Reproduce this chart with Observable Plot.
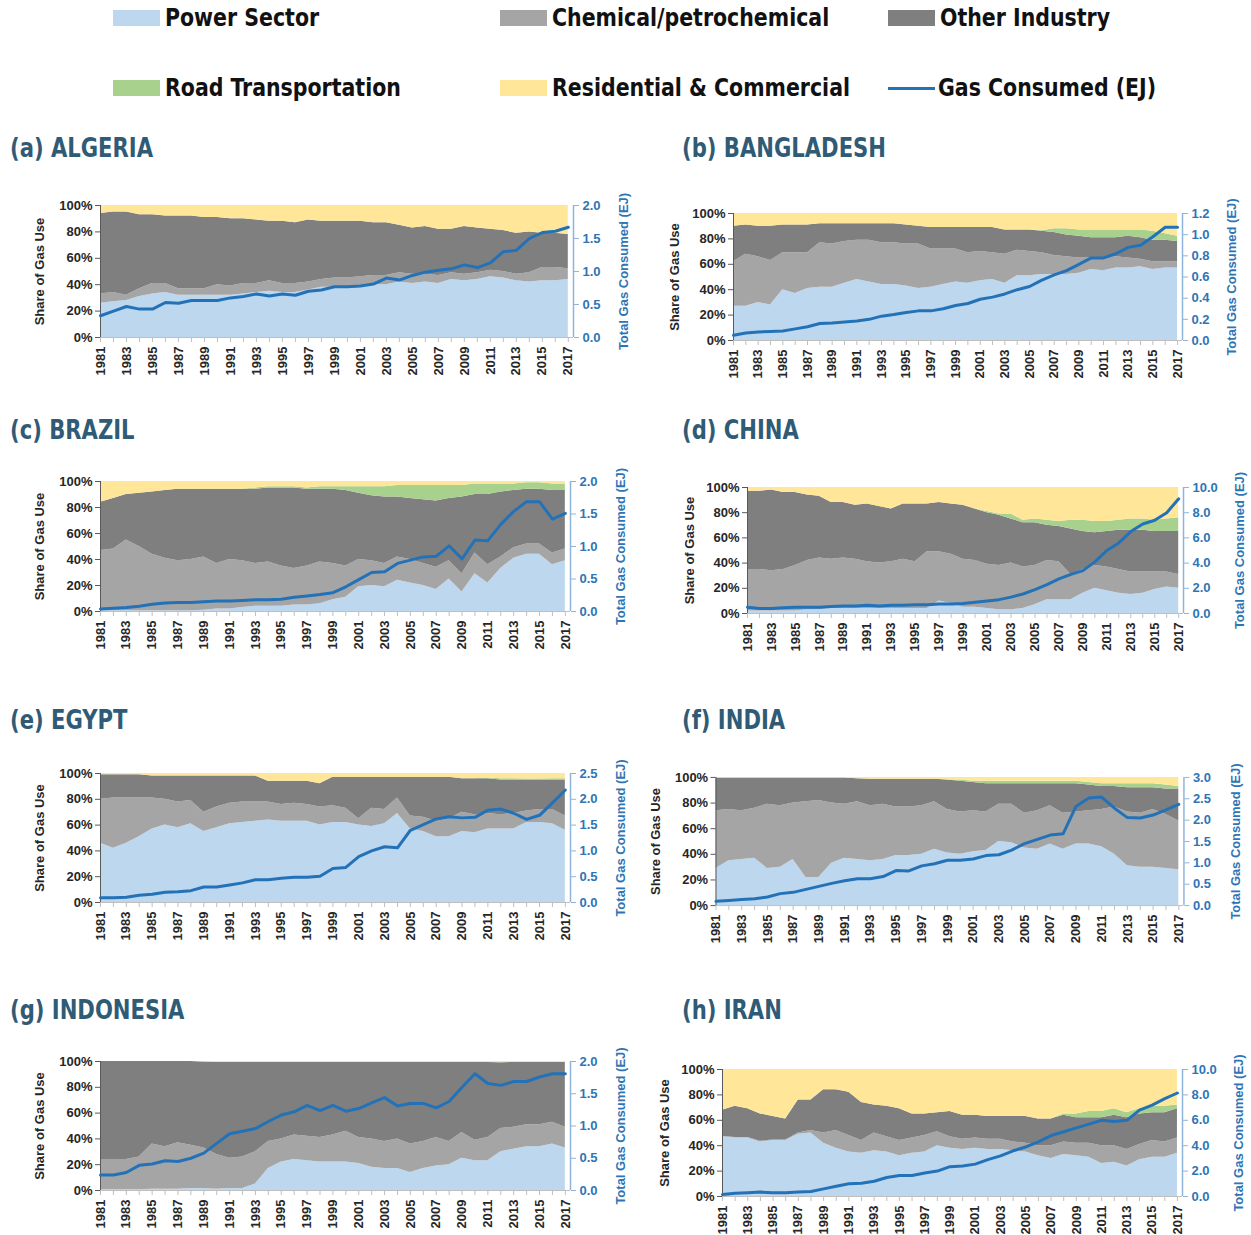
<!DOCTYPE html>
<html><head><meta charset="utf-8">
<script src="https://cdn.jsdelivr.net/npm/d3@7"></script>
<script src="https://cdn.jsdelivr.net/npm/@observablehq/plot@0.6"></script>
<style>
body{margin:0;background:#fff;}
#page{position:relative;width:1251px;height:1235px;overflow:hidden;font-family:"Liberation Sans",Arial,sans-serif;}
.leg{position:absolute;display:flex;align-items:center;font-family:"Liberation Sans Narrow","DejaVu Sans Condensed",sans-serif;font-weight:bold;font-size:24px;color:#111;height:30px;white-space:nowrap;}
.leg span{display:inline-block;transform:scaleX(0.95);transform-origin:left center;}
.sw{width:47px;height:16px;margin-right:5px;}
.ttl{position:absolute;font-family:"Liberation Sans Narrow","DejaVu Sans Condensed",sans-serif;font-weight:bold;font-size:27px;color:#2f5b76;line-height:30px;white-space:nowrap;transform:scaleX(0.87);transform-origin:left center;}
.pn{position:absolute;}
</style></head><body><div id="page"></div><script>
const years = d3.range(1981, 2018);

// ---- Algeria (cumulative share boundaries, %) ----
const algPower = [26,27,28,31,33,34,32,32,32,32,32,33,34,35,34,34,36,38,38,38,39,40,40,42,41,42,41,44,43,44,46,45,43,42,43,43,44];
const algChem  = [33,34,32,37,41,41,37,37,37,40,39,41,41,43,41,41,42,44,45,45,46,47,47,49,48,48,47,49,48,49,51,50,48,49,53,53,52];
const algOther = [94,95,95,93,93,92,92,92,91,91,90,90,89,88,88,87,89,88,88,88,88,87,87,85,83,84,82,82,84,83,82,81,79,80,79,79,78];
const algRoad  = algOther;
const algGas   = [0.33,0.40,0.47,0.43,0.43,0.53,0.52,0.56,0.56,0.56,0.60,0.62,0.66,0.63,0.66,0.64,0.70,0.72,0.77,0.77,0.78,0.81,0.90,0.87,0.94,0.99,1.02,1.04,1.10,1.06,1.13,1.30,1.32,1.50,1.59,1.61,1.67];

// ---- Bangladesh ----
const bgdPower = [27,27,30,28,40,37,41,42,42,45,48,46,44,44,43,41,42,44,46,45,47,48,45,51,51,52,52,52,53,56,55,57,57,58,56,57,57];
const bgdChem  = [62,68,66,63,69,69,69,77,76,78,79,79,77,77,76,76,72,72,72,69,70,69,68,71,70,69,67,66,65,65,65,66,65,64,62,62,62];
const bgdOther = [90,91,90,90,91,91,91,92,92,92,92,92,92,92,91,90,89,89,89,89,89,89,87,87,87,86,85,83,82,81,81,81,82,81,79,79,78];
const bgdRoad  = [90,91,90,90,91,91,91,92,92,92,92,92,92,92,91,90,89,89,89,89,89,89,87,87,87,86.5,88,88,87,87,87,87,87,87,86,84,82];
const bgdGas   = [0.05,0.07,0.08,0.085,0.09,0.11,0.13,0.16,0.165,0.175,0.185,0.20,0.23,0.245,0.265,0.28,0.28,0.30,0.33,0.35,0.39,0.41,0.44,0.48,0.51,0.57,0.62,0.66,0.72,0.78,0.78,0.82,0.88,0.90,0.98,1.07,1.07];

// ---- Brazil ----
const braPower = [0.5,0.5,0.5,0.5,0.5,0.5,0.5,0.5,1,2,2,3,4,4,4,5,5,6,9,11,19,20,19,24,22,20,17,25,15,29,22,33,41,44,44,36,39];
const braChem  = [47,48,55,50,44,41,39,40,42,37,40,39,37,38,35,33,35,38,37,35,40,39,37,42,40,37,34,39,29,45,36,42,49,52,52,45,48];
const braOther = [84,87,90,91,92,93,94,94,94,94,94,94,94,95,95,95,94,94,94,93,91,89,88,88,87,86,85,87,88,90,90,92,93,94,94,93,93];
const braRoad  = [84,87,90,91,92,93,94,94,94,94,94,94,95,96,96,96,95,96,96,96,96,96,96,97,97,97,97,97,97,98,98,98,98,99,99,98,98];
const braGas   = [0.04,0.05,0.06,0.08,0.11,0.13,0.14,0.14,0.15,0.16,0.16,0.17,0.18,0.18,0.19,0.22,0.24,0.26,0.29,0.38,0.49,0.60,0.61,0.74,0.79,0.84,0.85,1.01,0.81,1.10,1.09,1.34,1.54,1.69,1.69,1.42,1.51];

// ---- China ----
const chnPower = [2,2,2,2,2,3,3,4,4,4,4,4,4,4,4,4,10,8,5,5,4,3,3,4,7,11,11,11,16,20,18,16,15,16,19,21,20];
const chnChem  = [35,35,34,35,38,42,44,43,44,43,41,40,41,43,41,49,49,47,43,42,39,38,40,37,38,42,41,31,35,38,37,35,33,33,33,33,31];
const chnOther = [97,97,98,96,96,94,93,88,88,86,87,85,83,87,87,87,88,87,86,83,80,78,75,72,72,70,69,67,65,64,65,66,66,66,65,65,65];
const chnRoad  = [97,97,98,96,96,94,93,88,88,86,87,85,83,87,87,87,88,87,86,83,81,79,79,74,75,74,73,74,74,73,73,74,75,75,74,75,76];
const chnGas   = [0.5,0.4,0.4,0.45,0.5,0.5,0.5,0.55,0.6,0.6,0.65,0.6,0.65,0.65,0.7,0.7,0.75,0.75,0.8,0.9,1.0,1.1,1.3,1.55,1.9,2.3,2.75,3.1,3.4,4.1,5.0,5.6,6.5,7.1,7.4,8.0,9.1];

// ---- Egypt ----
const egyPower = [46,42,46,51,57,60,58,61,55,58,61,62,63,64,63,63,63,60,62,62,60,59,61,69,57,55,51,51,55,54,57,57,57,62,62,61,56];
const egyChem  = [80,81,81,81,81,80,78,79,70,74,77,78,78,78,76,77,76,74,75,73,65,73,72,81,67,66,63,65,70,68,69,68,69,71,72,72,67];
const egyOther = [99,99,99,99,98,98,98,98,98,98,98,98,98,94,94,94,94,92,97,97,97,97,97,97,97,97,97,97,96,96,96,95,95,95,95,95,95];
const egyRoad  = [99,99,99,99,98,98,98,98,98,98,98,98,98,94,94,94,94,92,97,97,97,97,97,97,97,97,97,97,96,96,96.5,96,96,95.8,95.8,96,96];
const egyGas   = [0.09,0.09,0.10,0.14,0.16,0.20,0.21,0.23,0.30,0.30,0.34,0.38,0.44,0.44,0.47,0.49,0.49,0.51,0.66,0.68,0.89,1.00,1.08,1.06,1.40,1.51,1.62,1.66,1.64,1.65,1.79,1.81,1.73,1.61,1.69,1.93,2.18];

// ---- India ----
const indPower = [29,35,36,37,29,30,36,22,22,33,37,36,35,36,39,39,40,44,41,40,42,43,50,49,45,44,48,44,48,48,46,40,31,30,30,29,28];
const indChem  = [74,75,74,76,79,78,80,81,82,80,79,81,78,79,77,77,78,81,75,73,74,73,79,79,72,74,78,72,73,74,75,77,73,72,75,71,66];
const indOther = [99.5,99.5,99.5,99.5,99.5,99.5,99.5,99.5,99.5,99.5,99.5,99,98.5,98.5,98.5,98.5,98.5,98.5,98,97,96,95,95,95,95,95,95,95,95,94,93,93,92,92,92,91,91];
const indRoad  = [99.5,99.5,99.5,99.5,99.5,99.5,99.5,99.5,99.5,99.5,99.5,99,98.5,98.5,98.5,98.5,98.5,98.5,98,98,97,97,97,97,97,97,97,97,97,96,95,95,95,95,95,94,93];
const indGas   = [0.10,0.12,0.14,0.16,0.20,0.28,0.31,0.38,0.45,0.52,0.58,0.63,0.63,0.68,0.82,0.81,0.93,0.98,1.06,1.06,1.09,1.17,1.19,1.30,1.45,1.55,1.65,1.68,2.32,2.52,2.54,2.28,2.06,2.05,2.12,2.24,2.37];

// ---- Indonesia ----
const idnPower = [0.5,0.5,0.5,0.5,1,1,1,1.5,1.5,1,1.5,1.5,5,17,22,24,23,22,22,22,21,18,17,17,14,17,19,20,25,23,23,30,32,34,34,36,33];
const idnChem  = [24,24,24,26,36,34,37,35,33,28,25,26,30,38,40,43,42,41,43,46,41,40,38,40,36,38,41,38,45,39,41,48,49,51,51,53,49];
const idnOther = [100,100,100,100,100,100,100,100,99.7,99.5,99.5,99.5,99.5,99.5,99.5,99.5,99.5,99.5,99.5,99.5,99.5,99.5,99.5,99.5,99.5,99.5,99.5,99.5,99.5,99.5,99.3,99,99.3,99.5,99.5,99.5,99.5];
const idnRoad  = idnOther;
const idnGas   = [0.24,0.24,0.28,0.39,0.41,0.46,0.45,0.50,0.58,0.73,0.88,0.92,0.96,1.07,1.17,1.22,1.32,1.24,1.32,1.23,1.27,1.36,1.44,1.31,1.35,1.35,1.28,1.38,1.60,1.81,1.66,1.63,1.69,1.69,1.76,1.81,1.81];

// ---- Iran ----
const irnPower = [47,46,46,43,44,44,49,50,42,38,35,34,36,35,32,34,35,40,38,37,38,37,37,36,35,32,30,33,32,31,26,27,24,29,31,31,34];
const irnChem  = [47.5,46.5,46.5,43.5,44.5,44.5,50,52,50,52,48,44,50,47,44,46,48,51,47,45,46,45,45,43,42,40,40,43,42,42,40,40,37,41,44,43,46];
const irnOther = [68,71,69,65,63,61,76,76,84,84,82,74,72,71,69,65,65,66,67,64,64,63,63,63,63,61,61,64,62,62,62,64,62,65,66,66,69];
const irnRoad  = [68,71,69,65,63,61,76,76,84,84,82,74,72,71,69,65,65,66,67,64,64,63,63,63,63,61,61,65,65,67,67,69,66,69,71,71,72];
const irnGas   = [0.15,0.25,0.30,0.35,0.30,0.30,0.35,0.40,0.60,0.80,1.00,1.05,1.20,1.50,1.65,1.65,1.85,2.00,2.35,2.40,2.55,2.90,3.20,3.60,3.90,4.30,4.80,5.10,5.40,5.70,6.00,5.90,6.00,6.80,7.20,7.70,8.15];

const legendItems = ["Power Sector","Chemical/petrochemical","Other Industry","Road Transportation","Residential & Commercial","Gas Consumed (EJ)"];
const COL = {power:"#bdd7ee", chem:"#a5a5a5", other:"#7f7f7f", road:"#a9d18e", res:"#ffe699", gas:"#2372b8"};
const legendColors = [COL.power, COL.chem, COL.other, COL.road, COL.res, COL.gas];

const page = document.getElementById("page");

// legend
const legX = [113, 500, 888], legY = [18, 88];
legendItems.forEach((name, i) => {
  const d = document.createElement("div");
  d.className = "leg";
  d.style.left = legX[i % 3] + "px";
  d.style.top = (legY[Math.floor(i / 3)] - 15) + "px";
  const sw = document.createElement("div");
  sw.className = "sw";
  if (i === 5) { sw.style.height = "3px"; sw.style.marginRight = "3px"; }
  sw.style.background = legendColors[i];
  d.appendChild(sw);
  const s = document.createElement("span");
  s.textContent = name;
  d.appendChild(s);
  page.appendChild(d);
});

function panel(cfg) {
  const {left, right, top, bottom} = cfg;
  const mL = 76, mR = 68, mT = 10, mB = 48;
  const width = right - left + mL + mR, height = bottom - top + mT + mB;
  const rows = years.map((year, i) => ({year, p: cfg.power[i], c: cfg.chem[i], o: cfg.other[i], r: cfg.road[i], g: cfg.gas[i]}));
  const gy = d => d.g / cfg.gmax * 100;
  const rticks = d3.range(0, cfg.gmax + 1e-9, cfg.gstep).map(v => v / cfg.gmax * 100);
  const xEnd = 2017.4;
  const chart = Plot.plot({
    width, height, marginLeft: mL, marginRight: mR, marginTop: mT, marginBottom: mB,
    style: {fontFamily: '"Liberation Sans", Arial, sans-serif', fontSize: "13px", fontWeight: "bold", background: "transparent", overflow: "visible"},
    x: {domain: [1981, xEnd]},
    y: {domain: [0, 100]},
    marks: [
      Plot.areaY(rows, {x: "year", y1: 0, y2: "p", fill: COL.power}),
      Plot.areaY(rows, {x: "year", y1: "p", y2: "c", fill: COL.chem}),
      Plot.areaY(rows, {x: "year", y1: "c", y2: "o", fill: COL.other}),
      Plot.areaY(rows, {x: "year", y1: "o", y2: "r", fill: COL.road}),
      Plot.areaY(rows, {x: "year", y1: "r", y2: 100, fill: COL.res}),
      Plot.ruleY([0], {stroke: "#bfbfbf"}),
      Plot.ruleX([1981], {stroke: "#595959"}),
      Plot.ruleX([xEnd], {stroke: "#8fb4dc", strokeWidth: 1.5}),
      Plot.line(rows, {x: "year", y: gy, stroke: COL.gas, strokeWidth: 3}),
      Plot.axisX(years, {tickFormat: d => d % 2 ? String(d) : "", tickRotate: -90, tickSize: 5, tickPadding: 4, stroke: "#bfbfbf", fill: "#262626", label: null}),
      Plot.axisY([0, 20, 40, 60, 80, 100], {anchor: "left", tickFormat: d => d + "%", tickSize: 5, tickPadding: 3, label: "Share of Gas Use", labelAnchor: "center", labelArrow: "none", labelOffset: cfg.lOff, fill: "#262626", stroke: "#595959"}),
      Plot.axisY(rticks, {anchor: "right", tickFormat: d => (d / 100 * cfg.gmax).toFixed(1), tickSize: 5, tickPadding: 4, label: "Total Gas Consumed (EJ)", labelAnchor: "center", labelArrow: "none", labelOffset: cfg.rOff, fill: "#2e75b6", stroke: "#8fb4dc"})
    ]
  });
  const wrap = document.createElement("div");
  wrap.className = "pn";
  wrap.style.left = (left - mL) + "px";
  wrap.style.top = (top - mT) + "px";
  wrap.appendChild(chart);
  page.appendChild(wrap);

  const t = document.createElement("div");
  t.className = "ttl";
  t.style.left = cfg.tx + "px";
  t.style.top = (cfg.ty - 15) + "px";
  t.textContent = cfg.title;
  page.appendChild(t);
}

const panels = [
  {title: "(a) ALGERIA", tx: 10, ty: 148, left: 100, right: 573, top: 205, bottom: 337, lOff: 66, rOff: 54, power: algPower, chem: algChem, other: algOther, road: algRoad, gas: algGas, gmax: 2.0, gstep: 0.5},
  {title: "(b) BANGLADESH", tx: 682, ty: 148, left: 733, right: 1182, top: 213, bottom: 340, lOff: 64, rOff: 53, power: bgdPower, chem: bgdChem, other: bgdOther, road: bgdRoad, gas: bgdGas, gmax: 1.2, gstep: 0.2},
  {title: "(c) BRAZIL", tx: 10, ty: 430, left: 100, right: 570, top: 481, bottom: 611, lOff: 66, rOff: 54, power: braPower, chem: braChem, other: braOther, road: braRoad, gas: braGas, gmax: 2.0, gstep: 0.5},
  {title: "(d) CHINA", tx: 682, ty: 430, left: 747, right: 1183, top: 487, bottom: 613, lOff: 63, rOff: 60, power: chnPower, chem: chnChem, other: chnOther, road: chnRoad, gas: chnGas, gmax: 10.0, gstep: 2.0},
  {title: "(e) EGYPT", tx: 10, ty: 720, left: 100, right: 570, top: 773, bottom: 902, lOff: 66, rOff: 54, power: egyPower, chem: egyChem, other: egyOther, road: egyRoad, gas: egyGas, gmax: 2.5, gstep: 0.5},
  {title: "(f) INDIA", tx: 682, ty: 720, left: 716, right: 1187, top: 777, bottom: 906, lOff: 66, rOff: 56, power: indPower, chem: indChem, other: indOther, road: indRoad, gas: indGas, gmax: 3.0, gstep: 0.5},
  {title: "(g) INDONESIA", tx: 10, ty: 1010, left: 100, right: 570, top: 1061, bottom: 1190, lOff: 66, rOff: 54, power: idnPower, chem: idnChem, other: idnOther, road: idnRoad, gas: idnGas, gmax: 2.0, gstep: 0.5},
  {title: "(h) IRAN", tx: 682, ty: 1010, left: 722, right: 1182, top: 1069, bottom: 1196, lOff: 63, rOff: 60, power: irnPower, chem: irnChem, other: irnOther, road: irnRoad, gas: irnGas, gmax: 10.0, gstep: 2.0}
];
panels.forEach(panel);
</script></body></html>
